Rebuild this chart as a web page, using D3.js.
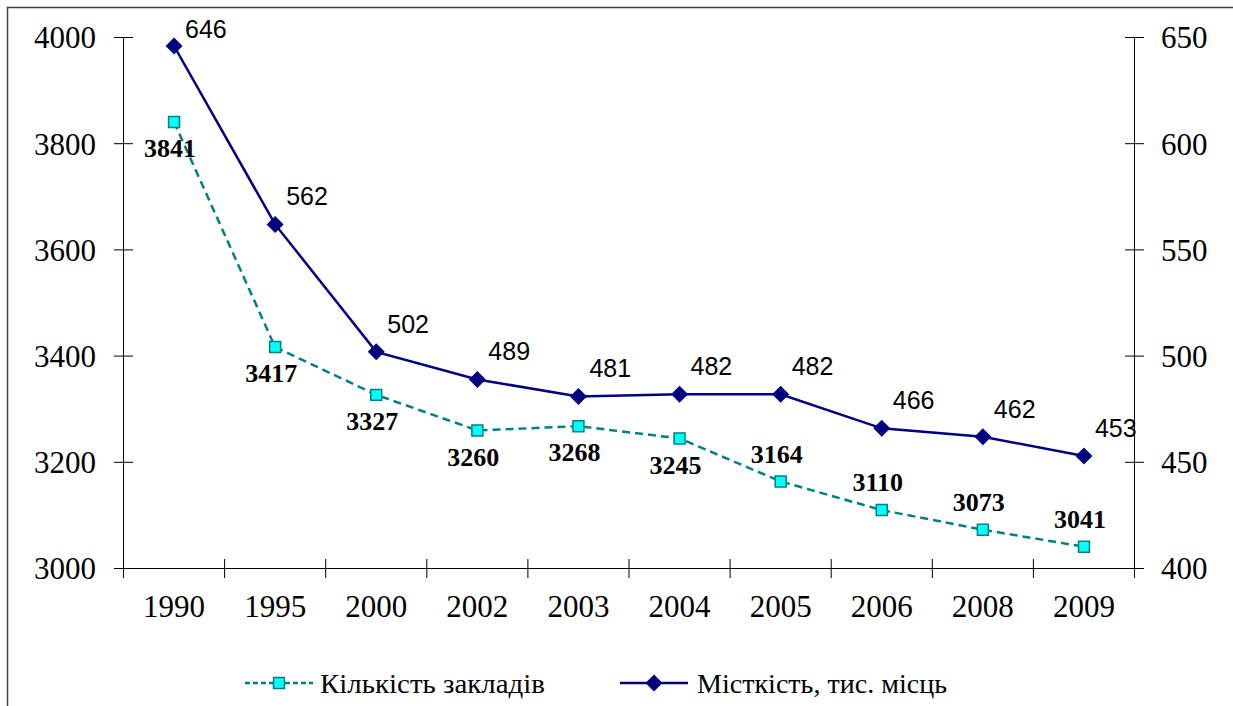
<!DOCTYPE html>
<html>
<head>
<meta charset="utf-8">
<script src="https://cdn.jsdelivr.net/npm/d3@7"></script>
<style>
  body { margin: 0; background: #fff; }
  svg { display: block; }
</style>
</head>
<body>
<div id="chart"></div>
<script>
// data
let years = ["1990", "1995", "2000", "2002", "2003", "2004", "2005", "2006", "2008", "2009"];
let schools = [3841, 3417, 3327, 3260, 3268, 3245, 3164, 3110, 3073, 3041];
let places = [646, 562, 502, 489, 481, 482, 482, 466, 462, 453];
let leftTicks = [3000, 3200, 3400, 3600, 3800, 4000];
let rightTicks = [400, 450, 500, 550, 600, 650];
let seriesNames = ["Кількість закладів", "Місткість, тис. місць"];

let width = 1233, height = 706;
let serif = "Liberation Serif";
let sans = "Liberation Sans";

let svg = d3.select('#chart')
  .append('svg')
  .attr('width', width)
  .attr('height', height);

// chart border (only left and top are inside the picture)
svg.append('rect')
  .attr('x', 7.5).attr('y', 7.5)
  .attr('width', 1300).attr('height', 800)
  .attr('fill', 'none')
  .attr('stroke', '#404040')
  .attr('stroke-width', 1.5);

/** scales */
let x = d3.scaleBand().domain(years).range([123.5, 1134.5]);
let yL = d3.scaleLinear().domain([3000, 4000]).range([568.5, 37.5]);
let yR = d3.scaleLinear().domain([400, 650]).range([568.5, 37.5]);
let cx = d => x(d) + x.bandwidth() / 2;

/** axes */
let g = svg.append('g');

g.append('line')
  .attr('x1', 123.5).attr('x2', 123.5)
  .attr('y1', yL(4000)).attr('y2', yL(3000))
  .attr('stroke', '#000');
g.append('line')
  .attr('x1', 1134.5).attr('x2', 1134.5)
  .attr('y1', yR(650)).attr('y2', yR(400))
  .attr('stroke', '#000');
g.append('line')
  .attr('x1', 123.5).attr('x2', 1134.5)
  .attr('y1', 568.5).attr('y2', 568.5)
  .attr('stroke', '#000');

// left ticks cross the axis
g.selectAll('.lt')
  .data(leftTicks)
  .enter()
  .append('line')
  .attr('x1', 114).attr('x2', 133)
  .attr('y1', d => yL(d)).attr('y2', d => yL(d))
  .attr('stroke', '#000');
g.selectAll('.ltl')
  .data(leftTicks)
  .enter()
  .append('text')
  .attr('x', 96)
  .attr('y', d => yL(d))
  .attr('dy', '0.35em')
  .attr('text-anchor', 'end')
  .attr('font-family', serif)
  .attr('font-size', 31)
  .text(d => d);

g.selectAll('.rt')
  .data(rightTicks)
  .enter()
  .append('line')
  .attr('x1', 1125).attr('x2', 1144)
  .attr('y1', d => yR(d)).attr('y2', d => yR(d))
  .attr('stroke', '#000');
g.selectAll('.rtl')
  .data(rightTicks)
  .enter()
  .append('text')
  .attr('x', 1161)
  .attr('y', d => yR(d))
  .attr('dy', '0.35em')
  .attr('font-family', serif)
  .attr('font-size', 31)
  .text(d => d);

// category boundary ticks
let bounds = years.map(d => x(d)).concat([x.range()[1]]);
g.selectAll('.xt')
  .data(bounds)
  .enter()
  .append('line')
  .attr('x1', d => d).attr('x2', d => d)
  .attr('y1', 559).attr('y2', 578)
  .attr('stroke', '#000');
g.selectAll('.xtl')
  .data(years)
  .enter()
  .append('text')
  .attr('x', d => cx(d))
  .attr('y', 606)
  .attr('dy', '0.35em')
  .attr('text-anchor', 'middle')
  .attr('font-family', serif)
  .attr('font-size', 31)
  .text(d => d);

/** lines */
let schoolLine = d3.line().x((d, i) => cx(years[i])).y(d => yL(d));
let placeLine = d3.line().x((d, i) => cx(years[i])).y(d => yR(d));

svg.append('path')
  .datum(schools)
  .attr('d', schoolLine)
  .attr('fill', 'none')
  .attr('stroke', '#008080')
  .attr('stroke-width', 2.5)
  .attr('stroke-dasharray', '8,5');

svg.append('path')
  .datum(places)
  .attr('d', placeLine)
  .attr('fill', 'none')
  .attr('stroke', '#000080')
  .attr('stroke-width', 2.5);

let square = d3.symbol().type(d3.symbolSquare).size(120);
let diamond = d => `M0,-8.5L8.5,0L0,8.5L-8.5,0Z`;

svg.selectAll('.sq')
  .data(schools)
  .enter()
  .append('path')
  .attr('d', square)
  .attr('transform', (d, i) => `translate(${cx(years[i])},${yL(d)})`)
  .attr('fill', '#00ffff')
  .attr('stroke', '#008080')
  .attr('stroke-width', 1.5);

svg.selectAll('.dm')
  .data(places)
  .enter()
  .append('path')
  .attr('d', diamond)
  .attr('transform', (d, i) => `translate(${cx(years[i])},${yR(d)})`)
  .attr('fill', '#000080');

/** data labels */
// labels of the first six squares sit below, the rest above
svg.selectAll('.sql')
  .data(schools)
  .enter()
  .append('text')
  .attr('x', (d, i) => cx(years[i]) - 4)
  .attr('y', (d, i) => i < 6 ? yL(d) + 26 : yL(d) - 28)
  .attr('dy', '0.35em')
  .attr('text-anchor', 'middle')
  .attr('font-family', serif)
  .attr('font-weight', 'bold')
  .attr('font-size', 26)
  .text(d => d);

svg.selectAll('.dml')
  .data(places)
  .enter()
  .append('text')
  .attr('x', (d, i) => cx(years[i]) + 11)
  .attr('y', (d, i) => Math.max(yR(d) - 28, 29))
  .attr('dy', '0.35em')
  .attr('font-family', sans)
  .attr('font-size', 25)
  .text(d => d);

/** legend */
let leg = svg.append('g');
leg.append('line')
  .attr('x1', 245).attr('x2', 313)
  .attr('y1', 683).attr('y2', 683)
  .attr('stroke', '#008080')
  .attr('stroke-width', 2.5)
  .attr('stroke-dasharray', '5,3');
leg.append('path')
  .attr('d', square)
  .attr('transform', 'translate(279,683)')
  .attr('fill', '#00ffff')
  .attr('stroke', '#008080')
  .attr('stroke-width', 1.5);
leg.append('text')
  .attr('x', 320).attr('y', 693)
  .attr('textLength', 225)
  .attr('lengthAdjust', 'spacingAndGlyphs')
  .attr('font-family', serif)
  .attr('font-size', 28)
  .text(seriesNames[0]);

leg.append('line')
  .attr('x1', 620).attr('x2', 688)
  .attr('y1', 683).attr('y2', 683)
  .attr('stroke', '#000080')
  .attr('stroke-width', 2.5);
leg.append('path')
  .attr('d', diamond)
  .attr('transform', 'translate(654,683)')
  .attr('fill', '#000080');
leg.append('text')
  .attr('x', 697).attr('y', 693)
  .attr('textLength', 250)
  .attr('lengthAdjust', 'spacingAndGlyphs')
  .attr('font-family', serif)
  .attr('font-size', 28)
  .text(seriesNames[1]);
</script>
</body>
</html>
